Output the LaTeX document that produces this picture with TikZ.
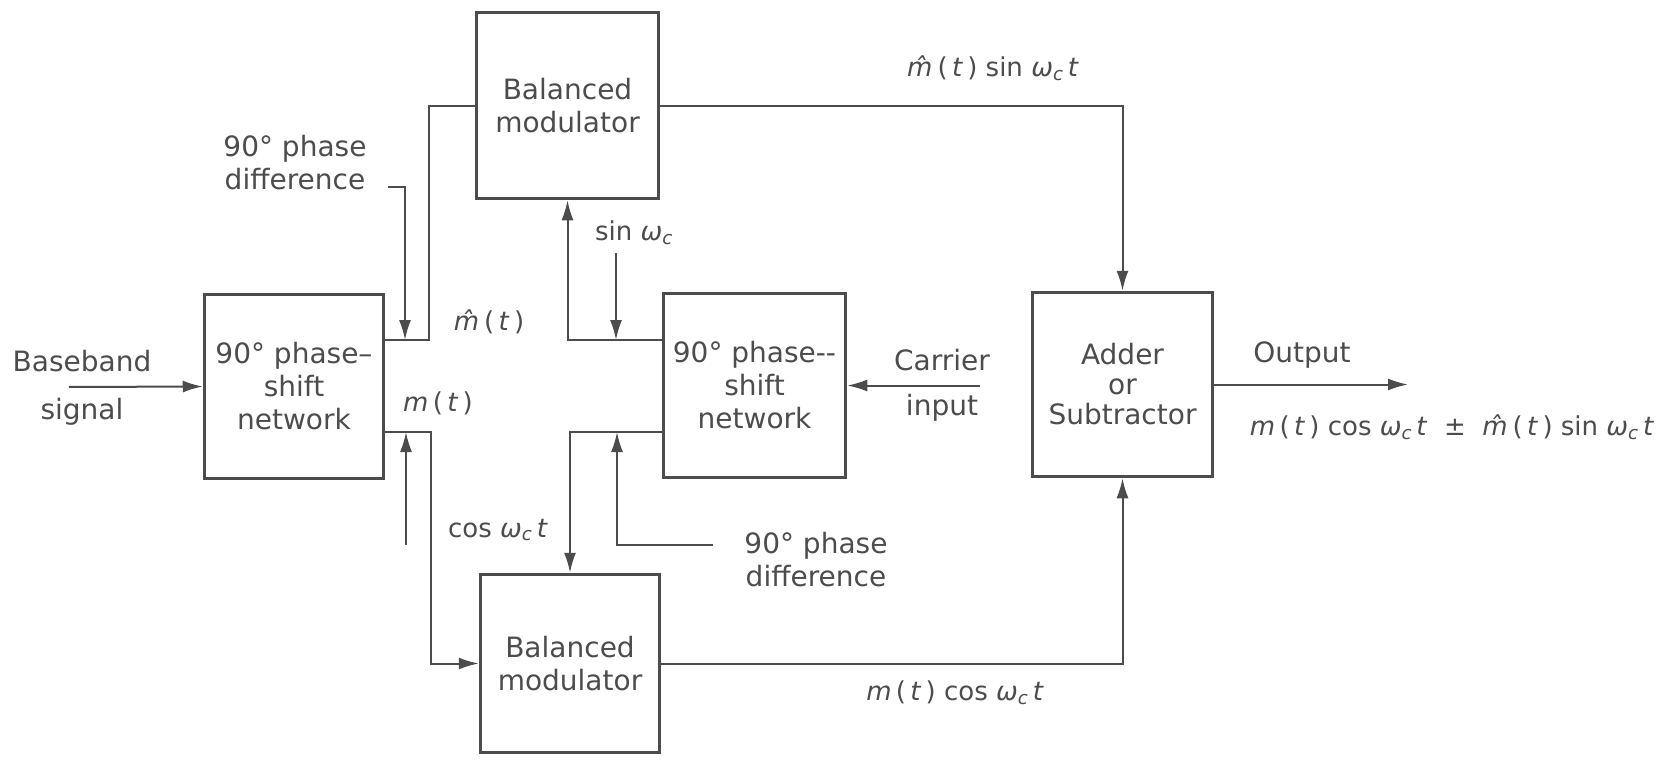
\documentclass[tikz,border=0pt]{standalone}
\usepackage{fontspec}
\setmainfont{DejaVu Sans}
\usetikzlibrary{arrows.meta}
\definecolor{ink}{gray}{0.30}
\newcommand\Mhat{\textit{m^^^^0302}}
\newcommand\Mt{\textit{m}\,(\,\textit{t}\,)}
\newcommand\Mht{\Mhat\,(\,\textit{t}\,)}
\newcommand\Wc{\textit{ω}\textsubscript{\textit{c}}}
\tikzset{
  blk/.style={draw=ink, line width=3.5pt, inner sep=0pt, align=center, text=ink,
              font=\fontsize{28}{33}\selectfont},
  lbl/.style={text=ink, align=center, inner sep=0pt, font=\fontsize{28}{33}\selectfont},
  mlbl/.style={text=ink, inner sep=0pt, font=\fontsize{26}{30}\selectfont},
  wire/.style={draw=ink, line width=2pt},
  arr/.style={wire, -{Latex[length=20pt,width=12pt]}}
}
\begin{document}
\begin{tikzpicture}[x=1pt,y=-1pt]
\useasboundingbox (0,0) rectangle (1674,760);
% blocks
\node[blk, minimum width=179pt, minimum height=184pt] (ps1) at (294,386.5) {90° phase–\\shift\\network};
\node[blk, minimum width=182pt, minimum height=186pt] (bm1) at (567.5,105.5) {Balanced\\modulator};
\node[blk, minimum width=179pt, minimum height=178pt] (bm2) at (570,663.5) {Balanced\\modulator};
\node[blk, minimum width=182pt, minimum height=184pt] (ps2) at (754.5,385.5) {90° phase-{}-\\shift\\network};
\node[blk, minimum width=180pt, minimum height=184pt, font=\fontsize{28}{30}\selectfont] (add) at (1122.5,384.5) {Adder\\or\\Subtractor};
% labels
\node[lbl, font=\fontsize{28}{48}\selectfont] (lbb) at (82,388) {Baseband\\signal};
\node[lbl] (lpd1) at (295,163) {90° phase\\difference};
\node[lbl] (lpd2) at (816,560) {90° phase\\difference};
\node[lbl, font=\fontsize{28}{45}\selectfont] (lcar) at (942,385) {Carrier\\input};
\node[lbl] (lout) at (1302,355) {Output};
\node[mlbl] (lmh) at (489,322) {\Mht};
\node[mlbl] (lm) at (438,403) {\Mt};
\node[mlbl] (lsin) at (634,233) {sin \Wc};
\node[mlbl] (lcos) at (498,530) {cos \Wc\,\textit{t}};
\node[mlbl] (ltop) at (993,68) {\Mht\ sin \Wc\,\textit{t}};
\node[mlbl] (lbot) at (955,693) {\Mt\ cos \Wc\,\textit{t}};
\node[mlbl] (lexp) at (1452,427) {\Mt\ cos \Wc\,\textit{t} \ ±\ \ \Mht\ sin \Wc\,\textit{t}};
% coordinates
\coordinate (bbin) at (69,387);
\coordinate (j1) at (429,340);
\coordinate (j2) at (431,432);
\coordinate (pd1a) at (388,187);
\coordinate (pd1b) at (405,187);
\coordinate (pd1c) at (405,340);
\coordinate (up1a) at (406,545);
\coordinate (up1b) at (406,432);
\coordinate (s1) at (662,340);
\coordinate (c1) at (662,432);
\coordinate (sda) at (616,253);
\coordinate (sdb) at (616,340);
\coordinate (pd2a) at (713,545);
\coordinate (pd2b) at (617,545);
\coordinate (pd2c) at (617,432);
\coordinate (carin) at (980,385.5);
\coordinate (outend) at (1408,384.5);
% connectors
\draw[arr] (bbin) -- (ps1.west);
\draw[wire] (ps1.east |- j1) -- (j1) |- (bm1.west);
\draw[arr] (pd1a) -- (pd1b) -- (pd1c);
\draw[arr] (ps1.east |- j2) -- (j2) |- (bm2.west);
\draw[arr] (up1a) -- (up1b);
\draw[arr] (s1) -| (bm1.south);
\draw[arr] (sda) -- (sdb);
\draw[arr] (c1) -| (bm2.north);
\draw[arr] (pd2a) -- (pd2b) -- (pd2c);
\draw[arr] (carin) -- (ps2.east);
\draw[arr] (bm1.east) -| (add.north);
\draw[arr] (bm2.east) -| (add.south);
\draw[arr] (add.east) -- (outend);
\end{tikzpicture}
\end{document}
